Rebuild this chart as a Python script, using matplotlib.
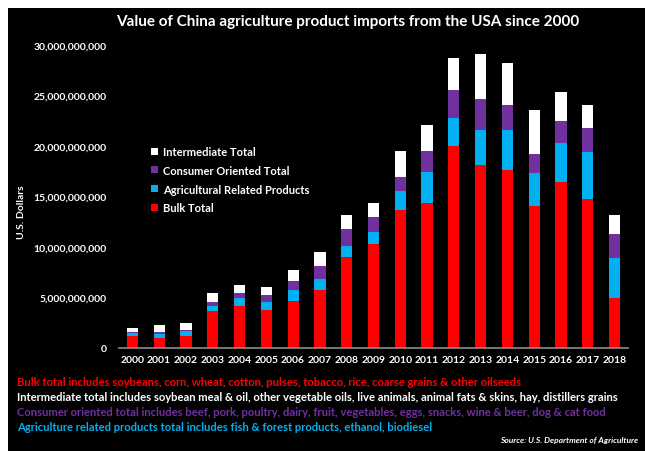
import matplotlib
matplotlib.use("Agg")
import matplotlib.pyplot as plt
from matplotlib.patches import Rectangle, Patch
from matplotlib.ticker import FuncFormatter
import numpy as np

plt.rcParams['font.family'] = ['Lato', 'DejaVu Sans']

years = [str(y) for y in range(2000, 2019)]
# Import values in billions of U.S. dollars
bulk = [1.2, 1.0, 1.2, 3.7, 4.2, 3.8, 4.7, 5.7, 9.0, 10.3, 13.7, 14.4, 20.0, 18.1, 17.6, 14.1, 16.4, 14.8, 5.0]
agri_related = [0.3, 0.4, 0.45, 0.5, 0.8, 0.8, 1.0, 1.1, 1.1, 1.2, 1.8, 3.0, 2.8, 3.5, 4.0, 3.2, 3.9, 4.6, 3.9]
consumer = [0.1, 0.2, 0.15, 0.4, 0.4, 0.6, 0.9, 1.3, 1.7, 1.5, 1.4, 2.1, 2.7, 3.1, 2.5, 1.9, 2.2, 2.4, 2.4]
intermediate = [0.35, 0.7, 0.65, 0.8, 0.8, 0.8, 1.1, 1.4, 1.4, 1.4, 2.6, 2.6, 3.2, 4.4, 4.1, 4.4, 2.8, 2.3, 1.9]
BILLION = 1e9

series_names = ["Bulk Total", "Agricultural Related Products",
                "Consumer Oriented Total", "Intermediate Total"]
colors = ["#FF0000", "#00B0F0", "#7030A0", "#FFFFFF"]

notes = [
    "Bulk total includes soybeans, corn, wheat, cotton, pulses, tobacco, rice, coarse grains & other oilseeds",
    "Intermediate total includes soybean meal & oil, other vegetable oils, live animals, animal fats & skins, hay, distillers grains",
    "Consumer oriented total includes beef, pork, poultry, dairy, fruit, vegetables, eggs, snacks, wine & beer, dog & cat food",
    "Agriculture related products total includes fish & forest products, ethanol, biodiesel",
]
note_colors = ["#FF0000", "#FFFFFF", "#7030A0", "#00B0F0"]

W, H = 645, 452
fig = plt.figure(figsize=(W / 100, H / 100), dpi=100, facecolor="white")
fig.patches.append(Rectangle((8 / W, 0), 1 - 8 / W, (H - 9) / H,
                             transform=fig.transFigure, facecolor="black",
                             edgecolor="none", zorder=-10))

ax = fig.add_axes([119 / W, (H - 349) / H, (628 - 119) / W, (349 - 46) / H])
ax.set_facecolor("black")
ax.set_zorder(5)

x = np.arange(len(years))
bottom = np.zeros(len(years))
handles = []
for name, vals, c in zip(series_names, [bulk, agri_related, consumer, intermediate], colors):
    v = np.array(vals) * BILLION
    ax.bar(x, v, width=0.42, bottom=bottom, color=c, edgecolor="none", label=name)
    bottom += v
    handles.append(Patch(facecolor=c, edgecolor="none", label=name))

ax.set_xlim(-0.5, 18.5)
ax.set_ylim(0, 30 * BILLION)
ax.set_yticks(np.arange(0, 30.1, 5) * BILLION)
ax.yaxis.set_major_formatter(FuncFormatter(lambda v, p: f"{int(round(v)):,}"))
ax.set_xticks(x)
ax.set_xticklabels(years)
for s in ["top", "right", "left"]:
    ax.spines[s].set_visible(False)
ax.spines["bottom"].set_color("#8C8C8C")
ax.spines["bottom"].set_linewidth(1.2)
ax.tick_params(axis="y", length=0, pad=9, colors="white", labelsize=7.5)
ax.tick_params(axis="x", length=0, pad=5, colors="white", labelsize=7.5)
for lab in ax.get_xticklabels() + ax.get_yticklabels():
    lab.set_fontweight("bold")

leg = ax.legend(handles=handles[::-1], loc="upper left",
                bbox_to_anchor=(141 / W, (H - 137) / H), bbox_transform=fig.transFigure,
                frameon=False, handlelength=0.6, handleheight=0.6, handletextpad=0.5,
                labelspacing=0.7, prop={"weight": "bold", "size": 8})
for t in leg.get_texts():
    t.set_color("white")

fig.text(348 / W, 1 - 22 / H,
         "Value of China agriculture product imports from the USA since 2000",
         color="white", fontsize=11, fontweight="bold", ha="center", va="center")
fig.text(22 / W, 1 - 212 / H, "U.S. Dollars", color="white", fontsize=7.5,
         fontweight="bold", rotation=90, ha="center", va="center")

for i, (t, c) in enumerate(zip(notes, note_colors)):
    fig.text(17 / W, 1 - (383 + 15 * i) / H, t, color=c, fontsize=8.1,
             fontweight="bold", ha="left", va="center")
fig.text(638 / W, 1 - 441 / H, "Source: U.S. Department of Agriculture", color="white",
         fontsize=6, fontweight="bold", fontstyle="italic", ha="right", va="center")

fig.savefig("out.png", dpi=100, facecolor="white")
